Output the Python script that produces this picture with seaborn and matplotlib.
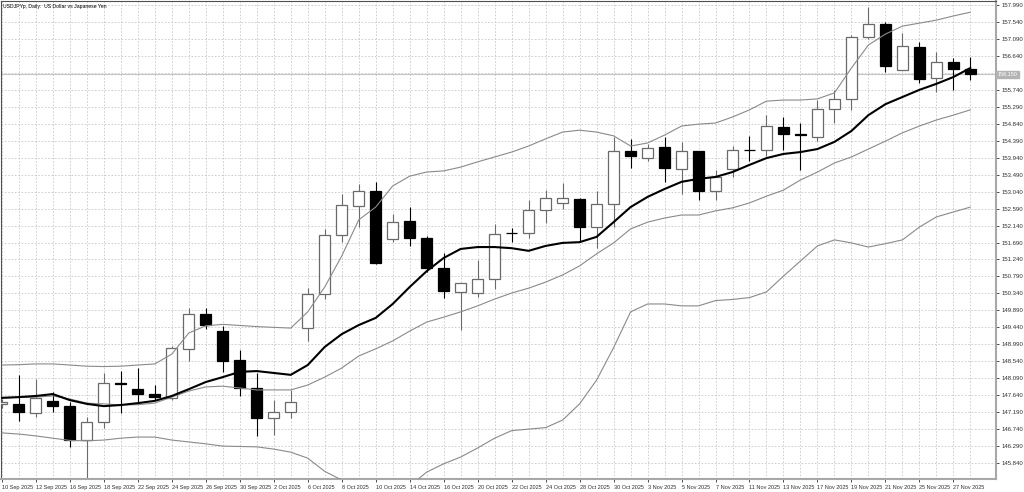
import numpy as np
import pandas as pd
import seaborn as sns
import matplotlib.pyplot as plt
import matplotlib.transforms as mtransforms

TITLE = 'USDJPYp, Daily:  US Dollar vs Japanese Yen'

dates = ['10 Sep 2025', '11 Sep 2025', '12 Sep 2025', '15 Sep 2025', '16 Sep 2025', '17 Sep 2025',
         '18 Sep 2025', '19 Sep 2025', '22 Sep 2025', '23 Sep 2025', '24 Sep 2025', '25 Sep 2025',
         '26 Sep 2025', '29 Sep 2025', '30 Sep 2025', '1 Oct 2025', '2 Oct 2025', '3 Oct 2025',
         '6 Oct 2025', '7 Oct 2025', '8 Oct 2025', '9 Oct 2025', '10 Oct 2025', '13 Oct 2025',
         '14 Oct 2025', '15 Oct 2025', '16 Oct 2025', '17 Oct 2025', '20 Oct 2025', '21 Oct 2025',
         '22 Oct 2025', '23 Oct 2025', '24 Oct 2025', '27 Oct 2025', '28 Oct 2025', '29 Oct 2025',
         '30 Oct 2025', '31 Oct 2025', '3 Nov 2025', '4 Nov 2025', '5 Nov 2025', '6 Nov 2025',
         '7 Nov 2025', '10 Nov 2025', '11 Nov 2025', '12 Nov 2025', '13 Nov 2025', '14 Nov 2025',
         '17 Nov 2025', '18 Nov 2025', '19 Nov 2025', '20 Nov 2025', '21 Nov 2025', '24 Nov 2025',
         '25 Nov 2025', '26 Nov 2025', '27 Nov 2025', '28 Nov 2025']

opens = [147.40, 147.41, 147.17, 147.48, 147.35, 146.45, 146.92, 147.97, 147.81, 147.68,
         147.57, 148.87, 149.79, 149.35, 148.57, 147.82, 147.03, 147.20, 149.41, 150.32,
         151.89, 152.67, 153.05, 151.78, 152.25, 151.82, 151.02, 150.39, 150.36, 150.72,
         151.94, 151.93, 152.54, 152.73, 152.85, 152.09, 152.70, 154.12, 153.94, 154.22,
         153.65, 154.11, 153.06, 153.63, 154.15, 154.15, 154.76, 154.56, 154.50, 155.23,
         155.50, 157.14, 157.49, 156.27, 156.88, 156.05, 156.48, 156.28]
highs = [147.55, 148.18, 148.07, 147.73, 147.47, 147.05, 148.24, 148.28, 148.37, 147.91,
         148.95, 149.95, 149.95, 149.48, 148.84, 148.22, 147.51, 147.78, 150.49, 152.04,
         152.99, 153.24, 153.30, 152.46, 152.62, 151.86, 151.40, 150.62, 151.23, 152.18,
         152.07, 152.82, 153.08, 153.26, 152.87, 153.06, 154.48, 154.43, 154.30, 154.50,
         154.36, 154.12, 153.61, 154.25, 154.52, 155.07, 155.03, 154.85, 155.47, 155.74,
         157.19, 157.93, 157.55, 157.24, 157.02, 156.75, 156.58, 156.62]
lows = [147.30, 146.96, 147.06, 147.20, 146.27, 145.44, 146.78, 147.18, 147.42, 147.51,
        147.50, 148.55, 149.40, 148.26, 147.62, 146.56, 146.58, 147.03, 149.08, 150.18,
        151.71, 152.09, 151.12, 151.71, 151.60, 150.92, 150.21, 149.37, 150.25, 150.45,
        151.71, 151.80, 152.20, 152.57, 151.73, 151.54, 152.11, 153.66, 153.86, 153.30,
        152.98, 152.82, 152.82, 153.42, 153.85, 153.99, 154.14, 153.61, 154.39, 154.86,
        155.20, 157.10, 156.22, 156.27, 155.91, 155.69, 155.74, 156.00]
closes = [147.47, 147.19, 147.57, 147.35, 146.45, 146.92, 147.97, 147.95, 147.68, 147.59,
          148.88, 149.79, 149.50, 148.56, 147.83, 147.04, 147.20, 147.45, 150.32, 151.88,
          152.68, 153.05, 151.14, 152.24, 151.81, 151.01, 150.40, 150.61, 150.72, 151.91,
          151.93, 152.54, 152.86, 152.86, 152.09, 152.70, 154.12, 153.99, 154.20, 153.67,
          154.12, 153.06, 153.42, 154.14, 154.14, 154.78, 154.56, 154.55, 155.24, 155.50,
          157.15, 157.48, 156.38, 156.90, 156.03, 156.48, 156.28, 156.15]

ma_fast = [147.57, 147.59, 147.62, 147.67, 147.51, 147.41, 147.35, 147.38, 147.43, 147.49,
           147.62, 147.80, 147.99, 148.12, 148.26, 148.28, 148.23, 148.18, 148.44, 148.92,
           149.26, 149.50, 149.69, 150.06, 150.51, 150.93, 151.28, 151.52, 151.57, 151.57,
           151.54, 151.47, 151.60, 151.68, 151.70, 151.84, 152.23, 152.63, 152.90, 153.11,
           153.30, 153.38, 153.43, 153.56, 153.75, 153.93, 154.04, 154.09, 154.17, 154.36,
           154.65, 155.07, 155.36, 155.55, 155.74, 155.90, 156.08, 156.32]
bb_upper = [148.44, 148.45, 148.47, 148.47, 148.44, 148.41, 148.40, 148.41, 148.44, 148.47,
            148.73, 149.29, 149.48, 149.52, 149.49, 149.46, 149.44, 149.42, 149.85, 150.51,
            151.33, 152.29, 152.63, 153.19, 153.45, 153.56, 153.59, 153.69, 153.83, 153.96,
            154.09, 154.25, 154.44, 154.62, 154.67, 154.62, 154.52, 154.25, 154.33, 154.54,
            154.78, 154.83, 154.86, 155.02, 155.21, 155.44, 155.47, 155.47, 155.50, 155.66,
            156.32, 156.93, 157.22, 157.43, 157.51, 157.59, 157.70, 157.80]
bb_middle = [147.57, 147.58, 147.59, 147.62, 147.54, 147.43, 147.41, 147.38, 147.39, 147.43,
             147.59, 147.75, 147.86, 147.88, 147.83, 147.78, 147.78, 147.78, 147.91, 148.12,
             148.36, 148.68, 148.87, 149.08, 149.34, 149.58, 149.71, 149.85, 150.01, 150.19,
             150.35, 150.48, 150.64, 150.83, 151.07, 151.39, 151.68, 152.05, 152.23, 152.34,
             152.42, 152.42, 152.53, 152.61, 152.74, 152.92, 153.08, 153.35, 153.56, 153.80,
             153.96, 154.17, 154.38, 154.60, 154.78, 154.94, 155.07, 155.21]
bb_lower = [146.64, 146.61, 146.56, 146.50, 146.44, 146.43, 146.45, 146.50, 146.53, 146.53,
            146.45, 146.40, 146.35, 146.29, 146.28, 146.27, 146.21, 146.13, 145.97, 145.62,
            145.39, 145.07, 145.11, 144.97, 145.23, 145.60, 145.82, 146.00, 146.24, 146.50,
            146.70, 146.74, 146.78, 146.98, 147.41, 148.04, 148.90, 149.85, 150.06, 150.06,
            150.01, 150.01, 150.15, 150.18, 150.23, 150.38, 150.80, 151.20, 151.60, 151.76,
            151.68, 151.57, 151.66, 151.76, 152.10, 152.37, 152.50, 152.63]

df = pd.DataFrame({'date': dates, 'open': opens, 'high': highs, 'low': lows, 'close': closes,
                   'ma': ma_fast, 'upper': bb_upper, 'middle': bb_middle, 'lower': bb_lower})
df['bar'] = np.arange(len(df))
up = df['close'] >= df['open']

sns.set_style("white")
plt.rcParams['font.family'] = ['Liberation Sans', 'DejaVu Sans']

fig = plt.figure(figsize=(10.24, 4.92), dpi=100)
ax = fig.add_axes([0.0005, 0.0264, 0.9722, 0.9715])

# wicks
ax.vlines(df['bar'][up], df['low'][up], df['high'][up], color='#6a6a6a', lw=0.8, zorder=2)
ax.vlines(df['bar'][~up], df['low'][~up], df['high'][~up], color='black', lw=0.8, zorder=2)
# bodies
body_lo = df[['open', 'close']].min(axis=1)
body_h = (df['close'] - df['open']).abs()
ax.bar(df['bar'][up], body_h[up], bottom=body_lo[up], width=0.66,
       color='white', edgecolor='#6a6a6a', linewidth=0.9, zorder=3)
ax.bar(df['bar'][~up], body_h[~up], bottom=body_lo[~up], width=0.66,
       color='black', edgecolor='black', linewidth=0.9, zorder=3)

# bollinger bands and moving average
for col in ['upper', 'middle', 'lower']:
    sns.lineplot(data=df, x='bar', y=col, color='#8a8a8a', lw=0.8, ax=ax, zorder=4)
sns.lineplot(data=df, x='bar', y='ma', color='black', lw=1.5, ax=ax, zorder=5)

# bid line and price tag
last = df['close'].iloc[-1]
ax.axhline(last, color='#c4c4c4', lw=0.8, zorder=1)
trans = mtransforms.blended_transform_factory(ax.transAxes, ax.transData)
ax.text(1.0015, last, f'{last:.3f}', transform=trans, ha='left', va='center', fontsize=4,
        color='white', bbox=dict(boxstyle='square,pad=0.25', fc='#b4b4b4', ec='#b4b4b4'),
        clip_on=False, zorder=10)

ax.set_xlim(-0.08, 58.51)
ax.set_ylim(145.417, 158.096)
yt = np.round(np.arange(145.84, 158.0, 0.45), 2)
ax.set_yticks(yt)
# the tick hidden behind the price tag keeps no label
ax.set_yticklabels(['' if abs(v - last) < 0.2 else f'{v:.3f}' for v in yt])
ax.yaxis.tick_right()
ax.set_xticks(df['bar'][::2])
ax.set_xticklabels(df['date'][::2])
ax.set_xticks(df['bar'], minor=True)
for lab in ax.get_xticklabels():
    lab.set_ha('left')
ax.tick_params(axis='y', which='major', right=True, length=2.5, width=0.6, pad=1.5,
               labelsize=4.3, colors='#303030')
ax.tick_params(axis='x', which='major', bottom=True, length=2.5, width=0.6, pad=1.5,
               labelsize=4.0, colors='#303030')
ax.tick_params(axis='x', which='minor', length=0)
ax.set_xlabel('')
ax.set_ylabel('')

ax.grid(True, axis='x', which='both', color='#c8c8c8', ls=(0, (2, 2)), lw=0.6)
ax.grid(True, axis='y', which='major', color='#c8c8c8', ls=(0, (2, 2)), lw=0.6)
ax.set_axisbelow(True)

for side in ['right', 'bottom']:
    ax.spines[side].set_color('#a8a8a8')
    ax.spines[side].set_linewidth(1.5)
for side in ['left', 'top']:
    ax.spines[side].set_color('#505050')
    ax.spines[side].set_linewidth(0.8)

ax.text(0.003, 0.993, TITLE, transform=ax.transAxes, ha='left', va='top', fontsize=3.7,
        color='black')

fig.savefig('out.png', dpi=100)
